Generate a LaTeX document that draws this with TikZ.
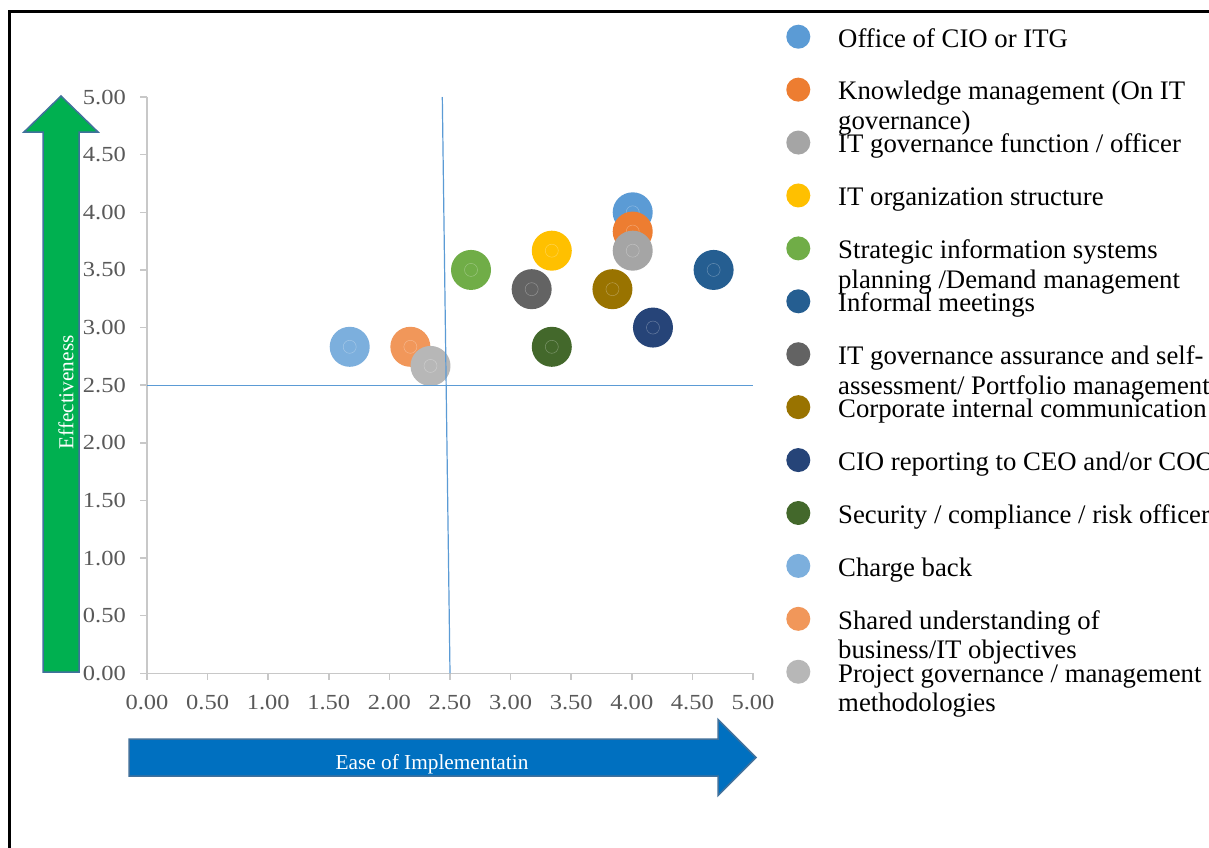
\documentclass[tikz,border=0pt]{standalone}
\usepackage{fontspec}
\setmainfont{Liberation Serif}
\newfontfamily\tickfont{Liberation Serif}[FakeStretch=1.14]
\definecolor{c1}{HTML}{5B9BD5}
\definecolor{c2}{HTML}{ED7D31}
\definecolor{c3}{HTML}{A5A5A5}
\definecolor{c4}{HTML}{FFC000}
\definecolor{c5}{HTML}{70AD47}
\definecolor{c6}{HTML}{255E91}
\definecolor{c7}{HTML}{636363}
\definecolor{c8}{HTML}{997300}
\definecolor{c9}{HTML}{264478}
\definecolor{c10}{HTML}{43682B}
\definecolor{c11}{HTML}{7CAFDD}
\definecolor{c12}{HTML}{F1975A}
\definecolor{c13}{HTML}{B7B7B7}
\definecolor{tickgray}{HTML}{595959}
\definecolor{axisgray}{HTML}{C8C8C8}
\definecolor{arrowgreen}{HTML}{00B050}
\definecolor{arrowblue}{HTML}{0070C0}
\definecolor{arrowedge}{HTML}{41719C}

\begin{document}

\begin{tikzpicture}[x=1pt,y=-1pt,
  bubble/.style={circle, inner sep=0pt, minimum size=40pt},
  legdot/.style={circle, inner sep=0pt, minimum size=24pt},
  legtext/.style={anchor=base west, inner sep=0pt, text=black, font=\fontsize{26.75}{29}\selectfont},
  ticklab/.style={inner sep=0pt, text=tickgray, font=\tickfont\fontsize{21.5}{24}\selectfont},
  axisline/.style={draw=axisgray, line width=1.5pt},
  quadline/.style={draw=c1, line width=1.2pt},
  bigarrow/.style={draw=arrowedge, line width=1.5pt, line join=miter},
  arrowlab/.style={inner sep=0pt, text=white, font=\fontsize{21.3}{23}\selectfont}]
\clip (0,0) rectangle (1209,847);
\fill[white] (0,0) rectangle (1209,847);
% frame
\draw[line width=2.8pt] (9.5,900) -- (9.5,11.5) -- (1300,11.5);
% axes
\draw[axisline] (147,97) -- (147,673.3) -- (753,673.3);
\foreach \i/\lab in {0/0.00,1/0.50,2/1.00,3/1.50,4/2.00,5/2.50,6/3.00,7/3.50,8/4.00,9/4.50,10/5.00} {
  \draw[axisline] (140,{673.3-57.625*\i}) -- (147,{673.3-57.625*\i});
  \node[ticklab, anchor=east] (yl\i) at (126,{673.3-57.625*\i}) {\lab};
  \draw[axisline] ({147+60.6*\i},673.3) -- ({147+60.6*\i},680);
  \node[ticklab, anchor=center] (xl\i) at ({147+60.6*\i},702.5) {\lab};
}
% bubbles
\foreach \vx/\vy/\col [count=\i] in {4.000/4.000/c1, 4.000/3.833/c2, 4.000/3.667/c3, 3.333/3.667/c4, 2.667/3.500/c5, 4.667/3.500/c6, 3.167/3.333/c7, 3.833/3.333/c8, 4.167/3.000/c9, 3.333/2.833/c10, 1.667/2.833/c11, 2.167/2.833/c12, 2.333/2.667/c13} {
  \node[bubble, fill=\col] (b\i) at ({147.5+121.3*\vx},{673.3-115.25*\vy}) {};
  \draw[white, opacity=0.3, line width=0.5pt] (b\i) circle (6.5);
}
% quadrant lines
\coordinate (qt) at (442.3,97);
\coordinate (qb) at (450,673.3);
\coordinate (ql) at (147,385.2);
\coordinate (qr) at (753,385.2);
\draw[quadline] (qt) -- (qb);
\draw[quadline] (ql) -- (qr);
% green arrow (Effectiveness)
\draw[bigarrow, fill=arrowgreen] (43,672) -- (43,132) -- (24,132) -- (61,96) -- (98,132) -- (79,132) -- (79,672) -- cycle;
\node[arrowlab, rotate=90, anchor=base] (eff) at (73.3,392.5) {Effectiveness};
% blue arrow (Ease of Implementation)
\draw[bigarrow, fill=arrowblue] (129,739) -- (718,739) -- (718,719.5) -- (756,757.5) -- (718,795.5) -- (718,776) -- (129,776) -- cycle;
\node[arrowlab, anchor=base] (ease) at (432,769.3) {Ease of Implementatin};
% legend
\foreach \i in {1,...,13} {
  \node[legdot, fill=c\i] (ld\i) at (798.3,{36.7+52.92*(\i-1)}) {};
}
\node[legtext] (lt1) at (838,47.0) {Office of CIO or ITG};
\node[legtext] (lt2) at (838,99.9) {Knowledge management (On IT};
\node[legtext] (lt2b) at (838,129.4) {governance)};
\node[legtext] (lt3) at (838,152.8) {IT governance function / officer};
\node[legtext] (lt4) at (838,205.8) {IT organization structure};
\node[legtext] (lt5) at (838,258.7) {Strategic information systems};
\node[legtext] (lt5b) at (838,288.2) {planning /Demand management};
\node[legtext] (lt6) at (838,311.6) {Informal meetings};
\node[legtext] (lt7) at (838,364.5) {IT governance assurance and self-};
\node[legtext] (lt7b) at (838,394.0) {assessment/ Portfolio management};
\node[legtext] (lt8) at (838,417.4) {Corporate internal communication};
\node[legtext] (lt9) at (838,470.4) {CIO reporting to CEO and/or COO};
\node[legtext] (lt10) at (838,523.3) {Security / compliance / risk officer};
\node[legtext] (lt11) at (838,576.2) {Charge back};
\node[legtext] (lt12) at (838,629.1) {Shared understanding of};
\node[legtext] (lt12b) at (838,658.6) {business/IT objectives};
\node[legtext] (lt13) at (838,682.0) {Project governance / management};
\node[legtext] (lt13b) at (838,711.5) {methodologies};
\end{tikzpicture}

\end{document}
